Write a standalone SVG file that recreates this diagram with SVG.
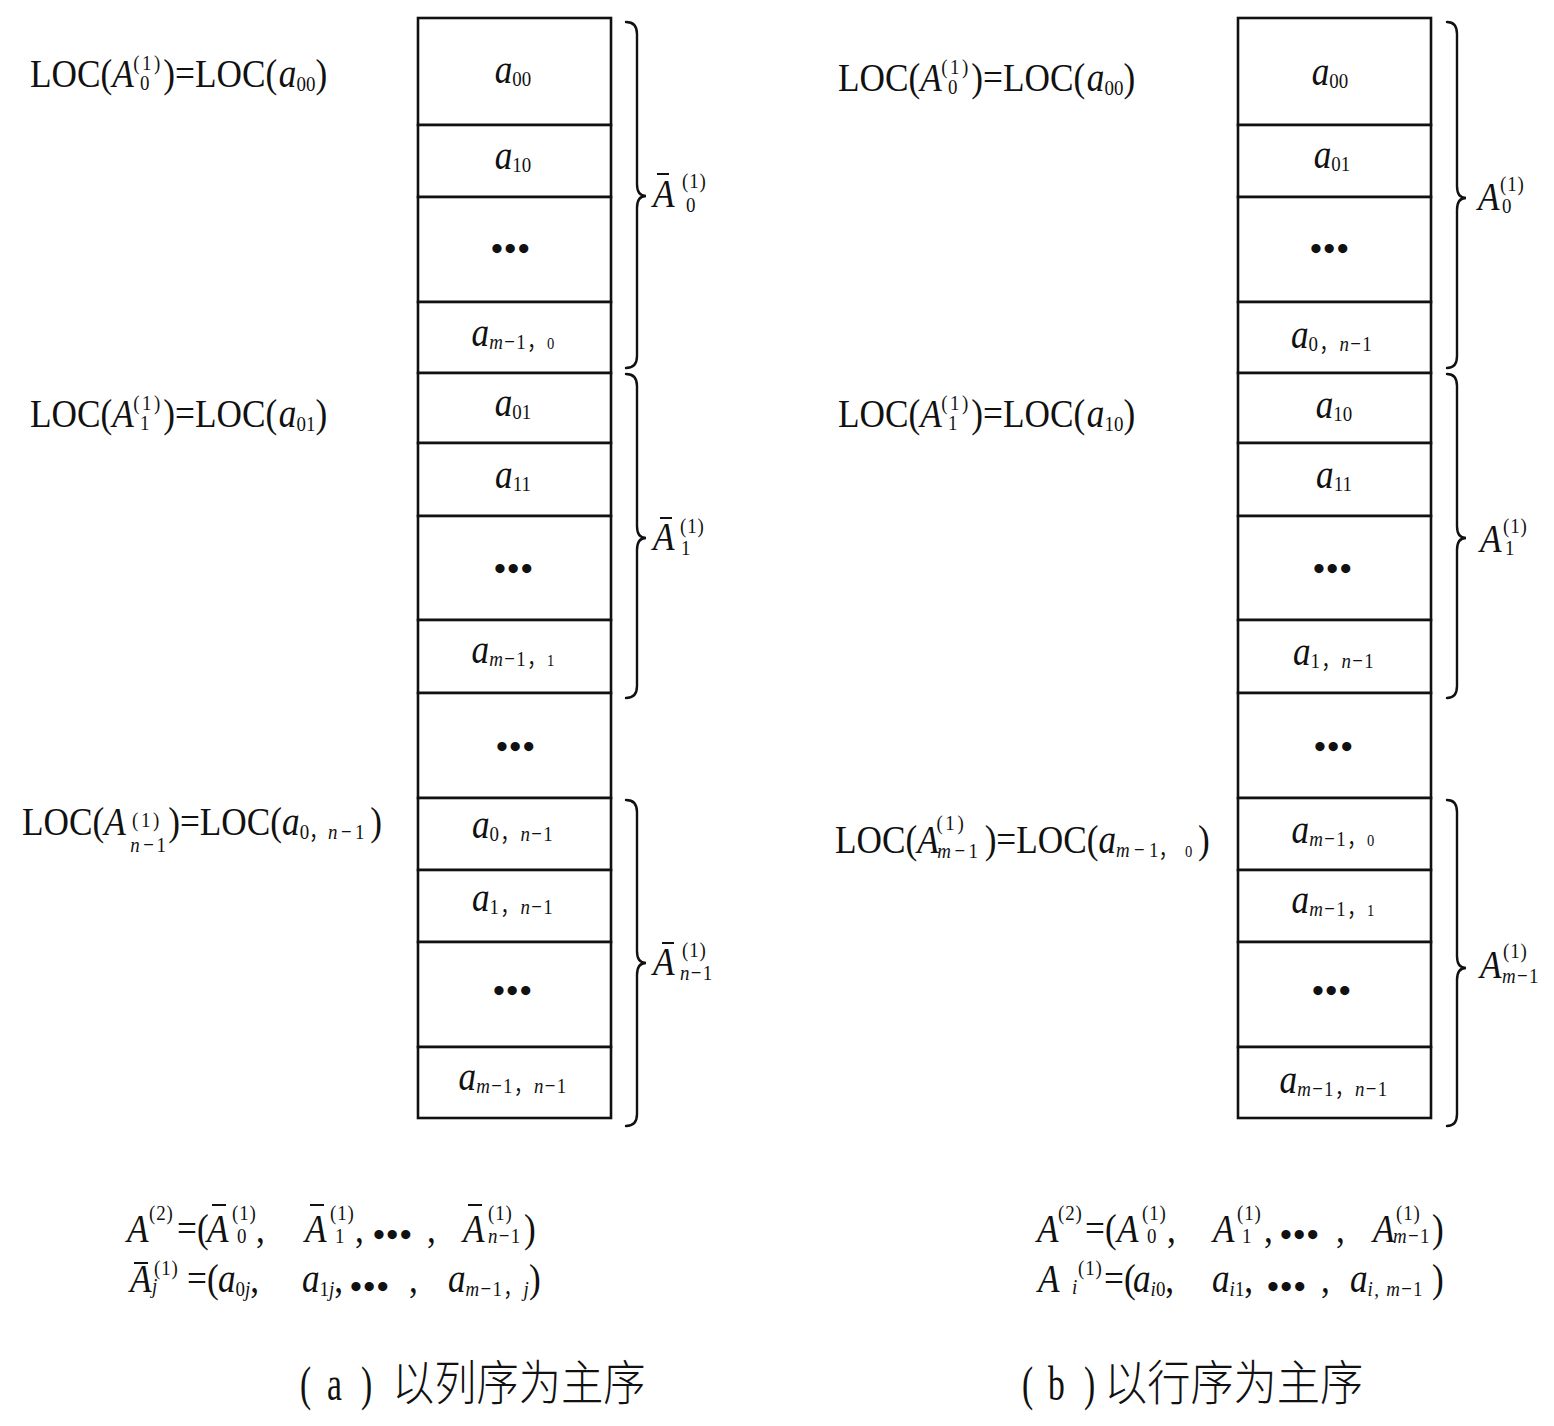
<svg xmlns="http://www.w3.org/2000/svg" width="1554" height="1426" viewBox="0 0 1554 1426">
<style>
.t{font-family:"Liberation Serif","Noto Sans CJK SC",serif;font-size:41px;fill:#111}
.i{font-style:italic}
.s{font-size:22px}
.sm{font-size:22px;letter-spacing:1.5px}
.sp{font-size:22px;letter-spacing:1px}
.spw{font-size:22px;letter-spacing:3px}
.x{font-size:17px}
.cell{fill:#fff;stroke:#111;stroke-width:2.6}
.brace{fill:none;stroke:#111;stroke-width:2.4;stroke-linecap:round}
.bar{stroke:#111;stroke-width:2}
.dots{font-family:"Liberation Serif",serif;font-size:34px;font-weight:bold;fill:#111;text-anchor:middle;letter-spacing:1.5px}
.m{text-anchor:middle}
.cap{font-family:"Noto Sans CJK SC",sans-serif;font-size:48px;font-weight:300;fill:#111}
.capl{font-family:"Liberation Serif",serif;font-size:48px;fill:#111}
</style>
<rect width="1554" height="1426" fill="#fff"/>

<!-- Left column (a) -->
<g id="left-column">
<g id="L1"><rect class="cell" x="418" y="18" width="193" height="107"/><text class="t m" transform="translate(513,83) scale(0.86,1)"><tspan class="i">a</tspan><tspan class="s" dy="3">00</tspan></text></g>
<g id="L2"><rect class="cell" x="418" y="125" width="193" height="72"/><text class="t m" transform="translate(513,169) scale(0.86,1)"><tspan class="i">a</tspan><tspan class="s" dy="3">10</tspan></text></g>
<g id="L3"><rect class="cell" x="418" y="197" width="193" height="105"/><text class="dots" x="511" y="260">•••</text></g>
<g id="L4"><rect class="cell" x="418" y="302" width="193" height="71"/><text class="t m" transform="translate(513,346) scale(0.86,1)"><tspan class="i">a</tspan><tspan class="sm" dy="3"><tspan class="i">m</tspan>−1，</tspan><tspan class="x">0</tspan></text></g>
<g id="L5"><rect class="cell" x="418" y="373" width="193" height="70"/><text class="t m" transform="translate(513,416) scale(0.86,1)"><tspan class="i">a</tspan><tspan class="s" dy="3">01</tspan></text></g>
<g id="L6"><rect class="cell" x="418" y="443" width="193" height="73"/><text class="t m" transform="translate(513,488) scale(0.86,1)"><tspan class="i">a</tspan><tspan class="s" dy="3">11</tspan></text></g>
<g id="L7"><rect class="cell" x="418" y="516" width="193" height="104"/><text class="dots" x="514" y="580">•••</text></g>
<g id="L8"><rect class="cell" x="418" y="620" width="193" height="73"/><text class="t m" transform="translate(513,663) scale(0.86,1)"><tspan class="i">a</tspan><tspan class="sm" dy="3"><tspan class="i">m</tspan>−1，</tspan><tspan class="x">1</tspan></text></g>
<g id="L9"><rect class="cell" x="418" y="693" width="193" height="105"/><text class="dots" x="516" y="758">•••</text></g>
<g id="L10"><rect class="cell" x="418" y="798" width="193" height="72"/><text class="t m" transform="translate(513,838) scale(0.86,1)"><tspan class="i">a</tspan><tspan class="sm" dy="3">0，<tspan class="i">n</tspan>−1</tspan></text></g>
<g id="L11"><rect class="cell" x="418" y="870" width="193" height="72"/><text class="t m" transform="translate(513,911) scale(0.86,1)"><tspan class="i">a</tspan><tspan class="sm" dy="3">1，<tspan class="i">n</tspan>−1</tspan></text></g>
<g id="L12"><rect class="cell" x="418" y="942" width="193" height="105"/><text class="dots" x="513" y="1002">•••</text></g>
<g id="L13"><rect class="cell" x="418" y="1047" width="193" height="71"/><text class="t m" transform="translate(513,1090) scale(0.86,1)"><tspan class="i">a</tspan><tspan class="sm" dy="3"><tspan class="i">m</tspan>−1，<tspan class="i">n</tspan>−1</tspan></text></g>
</g>

<!-- Right column (b) -->
<g id="right-column">
<g id="R1"><rect class="cell" x="1238" y="18" width="193" height="107"/><text class="t m" transform="translate(1330,85) scale(0.86,1)"><tspan class="i">a</tspan><tspan class="s" dy="3">00</tspan></text></g>
<g id="R2"><rect class="cell" x="1238" y="125" width="193" height="72"/><text class="t m" transform="translate(1332,168) scale(0.86,1)"><tspan class="i">a</tspan><tspan class="s" dy="3">01</tspan></text></g>
<g id="R3"><rect class="cell" x="1238" y="197" width="193" height="105"/><text class="dots" x="1330" y="260">•••</text></g>
<g id="R4"><rect class="cell" x="1238" y="302" width="193" height="71"/><text class="t m" transform="translate(1332,348) scale(0.86,1)"><tspan class="i">a</tspan><tspan class="sm" dy="3">0，<tspan class="i">n</tspan>−1</tspan></text></g>
<g id="R5"><rect class="cell" x="1238" y="373" width="193" height="70"/><text class="t m" transform="translate(1334,418) scale(0.86,1)"><tspan class="i">a</tspan><tspan class="s" dy="3">10</tspan></text></g>
<g id="R6"><rect class="cell" x="1238" y="443" width="193" height="73"/><text class="t m" transform="translate(1334,488) scale(0.86,1)"><tspan class="i">a</tspan><tspan class="s" dy="3">11</tspan></text></g>
<g id="R7"><rect class="cell" x="1238" y="516" width="193" height="104"/><text class="dots" x="1333" y="580">•••</text></g>
<g id="R8"><rect class="cell" x="1238" y="620" width="193" height="73"/><text class="t m" transform="translate(1334,665) scale(0.86,1)"><tspan class="i">a</tspan><tspan class="sm" dy="3">1，<tspan class="i">n</tspan>−1</tspan></text></g>
<g id="R9"><rect class="cell" x="1238" y="693" width="193" height="105"/><text class="dots" x="1334" y="758">•••</text></g>
<g id="R10"><rect class="cell" x="1238" y="798" width="193" height="72"/><text class="t m" transform="translate(1333,843) scale(0.86,1)"><tspan class="i">a</tspan><tspan class="sm" dy="3"><tspan class="i">m</tspan>−1，</tspan><tspan class="x">0</tspan></text></g>
<g id="R11"><rect class="cell" x="1238" y="870" width="193" height="72"/><text class="t m" transform="translate(1333,913) scale(0.86,1)"><tspan class="i">a</tspan><tspan class="sm" dy="3"><tspan class="i">m</tspan>−1，</tspan><tspan class="x">1</tspan></text></g>
<g id="R12"><rect class="cell" x="1238" y="942" width="193" height="105"/><text class="dots" x="1332" y="1002">•••</text></g>
<g id="R13"><rect class="cell" x="1238" y="1047" width="193" height="71"/><text class="t m" transform="translate(1334,1093) scale(0.86,1)"><tspan class="i">a</tspan><tspan class="sm" dy="3"><tspan class="i">m</tspan>−1，<tspan class="i">n</tspan>−1</tspan></text></g>
</g>

<!-- Braces -->
<g id="connectors">
<path class="brace" d="M626,22 Q637,22 637,34 L637,184 Q637,196 646,196 Q637,196 637,208 L637,356 Q637,368 626,368"/>
<path class="brace" d="M626,374 Q637,374 637,386 L637,526 Q637,538 646,538 Q637,538 637,550 L637,686 Q637,698 626,698"/>
<path class="brace" d="M626,800 Q637,800 637,812 L637,951 Q637,963 646,963 Q637,963 637,975 L637,1114 Q637,1126 626,1126"/>
<path class="brace" d="M1447,22 Q1457,22 1457,34 L1457,186 Q1457,198 1466,198 Q1457,198 1457,210 L1457,356 Q1457,368 1447,368"/>
<path class="brace" d="M1447,374 Q1457,374 1457,386 L1457,526 Q1457,538 1466,538 Q1457,538 1457,550 L1457,686 Q1457,698 1447,698"/>
<path class="brace" d="M1447,800 Q1457,800 1457,812 L1457,956 Q1457,968 1466,968 Q1457,968 1457,980 L1457,1114 Q1457,1126 1447,1126"/>
</g>

<!-- Brace labels -->
<g id="brace-labels-left">
<text class="t i" transform="translate(653,207) scale(0.86,1)">A</text><line class="bar" x1="657" y1="174" x2="669" y2="174"/>
<text class="t sp" transform="translate(682,188) scale(0.86,1)">(1)</text><text class="t s" transform="translate(686,212) scale(0.86,1)">0</text>
<text class="t i" transform="translate(653,550) scale(0.86,1)">A</text><line class="bar" x1="660" y1="518" x2="672" y2="518"/>
<text class="t sp" transform="translate(680,533) scale(0.86,1)">(1)</text><text class="t s" transform="translate(681,555) scale(0.86,1)">1</text>
<text class="t i" transform="translate(653,975) scale(0.86,1)">A</text><line class="bar" x1="662" y1="943" x2="674" y2="943"/>
<text class="t sp" transform="translate(682,957) scale(0.86,1)">(1)</text><text class="t sm" transform="translate(680,980) scale(0.86,1)"><tspan class="i">n</tspan>−1</text>
</g>
<g id="brace-labels-right">
<text class="t i" transform="translate(1478,210) scale(0.86,1)">A</text>
<text class="t sp" transform="translate(1500,191) scale(0.86,1)">(1)</text><text class="t s" transform="translate(1502,213) scale(0.86,1)">0</text>
<text class="t i" transform="translate(1480,552) scale(0.86,1)">A</text>
<text class="t sp" transform="translate(1503,533) scale(0.86,1)">(1)</text><text class="t s" transform="translate(1505,555) scale(0.86,1)">1</text>
<text class="t i" transform="translate(1480,978) scale(0.86,1)">A</text>
<text class="t sp" transform="translate(1503,958) scale(0.86,1)">(1)</text><text class="t sm" transform="translate(1502,983) scale(0.86,1)"><tspan class="i">m</tspan>−1</text>
</g>

<!-- LOC labels -->
<g id="loc-left">
<text class="t" transform="translate(30,87) scale(0.86,1)">LOC(<tspan class="i">A</tspan><tspan class="spw" x="120" y="-17">(1)</tspan><tspan class="s" x="128" y="3">0</tspan><tspan x="155" y="0">)=LOC(</tspan><tspan class="i" dx="2">a</tspan><tspan class="s" y="4">00</tspan><tspan y="0">)</tspan></text>
<text class="t" transform="translate(30,427) scale(0.86,1)">LOC(<tspan class="i">A</tspan><tspan class="spw" x="120" y="-17">(1)</tspan><tspan class="s" x="128" y="3">1</tspan><tspan x="155" y="0">)=LOC(</tspan><tspan class="i" dx="2">a</tspan><tspan class="s" y="4">01</tspan><tspan y="0">)</tspan></text>
<text class="t" transform="translate(22,835) scale(0.86,1)">LOC(<tspan class="i">A</tspan><tspan class="spw" x="128" y="-8">(1)</tspan><tspan class="s i" x="126" y="17">n</tspan><tspan class="s" dx="4">−</tspan><tspan class="s" dx="3">1</tspan><tspan x="170" y="0">)=LOC(</tspan><tspan class="i">a</tspan><tspan class="s" y="4">0，</tspan><tspan class="s i">n</tspan><tspan class="s" dx="4">−</tspan><tspan class="s" dx="4">1</tspan><tspan x="405" y="0">)</tspan></text>
</g>
<g id="loc-right">
<text class="t" transform="translate(838,91) scale(0.86,1)">LOC(<tspan class="i">A</tspan><tspan class="spw" x="120" y="-17">(1)</tspan><tspan class="s" x="128" y="3">0</tspan><tspan x="155" y="0">)=LOC(</tspan><tspan class="i" dx="2">a</tspan><tspan class="s" y="4">00</tspan><tspan y="0">)</tspan></text>
<text class="t" transform="translate(838,427) scale(0.86,1)">LOC(<tspan class="i">A</tspan><tspan class="spw" x="120" y="-17">(1)</tspan><tspan class="s" x="128" y="3">1</tspan><tspan x="155" y="0">)=LOC(</tspan><tspan class="i" dx="2">a</tspan><tspan class="s" y="4">10</tspan><tspan y="0">)</tspan></text>
<text class="t" transform="translate(835,853) scale(0.86,1)">LOC(<tspan class="i">A</tspan><tspan class="spw" x="118" y="-23">(1)</tspan><tspan class="s i" x="119" y="5">m</tspan><tspan class="s" dx="4">−</tspan><tspan class="s" dx="4">1</tspan><tspan x="174" y="0">)=LOC(</tspan><tspan class="i">a</tspan><tspan class="s i" y="4">m</tspan><tspan class="s" dx="5">−</tspan><tspan class="s" dx="5">1，</tspan><tspan class="x" x="407">0</tspan><tspan x="422" y="0">)</tspan></text>
</g>

<!-- Formulas left -->
<g id="formula-left">
<text class="t i" transform="translate(127,1242) scale(0.86,1)">A</text>
<text class="t sp" transform="translate(149,1220) scale(0.86,1)">(2)</text>
<text class="t" transform="translate(177,1242) scale(0.86,1)">=(</text>
<text class="t i" transform="translate(207,1242) scale(0.86,1)">A</text><line class="bar" x1="212" y1="1205" x2="226" y2="1205"/>
<text class="t sp" transform="translate(232,1220) scale(0.86,1)">(1)</text><text class="t s" transform="translate(237,1243) scale(0.86,1)">0</text>
<text class="t" transform="translate(256,1242) scale(0.86,1)">,</text>
<text class="t i" transform="translate(305,1242) scale(0.86,1)">A</text><line class="bar" x1="310" y1="1205" x2="324" y2="1205"/>
<text class="t sp" transform="translate(330,1220) scale(0.86,1)">(1)</text><text class="t s" transform="translate(335,1243) scale(0.86,1)">1</text>
<text class="t" transform="translate(355,1242) scale(0.86,1)">,</text>
<text class="dots" x="393" y="1246">•••</text>
<text class="t" transform="translate(427,1242) scale(0.86,1)">,</text>
<text class="t i" transform="translate(463,1242) scale(0.86,1)">A</text><line class="bar" x1="468" y1="1205" x2="482" y2="1205"/>
<text class="t sp" transform="translate(488,1220) scale(0.86,1)">(1)</text><text class="t sm" transform="translate(488,1243) scale(0.86,1)"><tspan class="i">n</tspan>−1</text>
<text class="t" transform="translate(524,1242) scale(0.86,1)">)</text>

<text class="t i" transform="translate(130,1292) scale(0.86,1)">A</text><line class="bar" x1="134" y1="1263" x2="148" y2="1263"/>
<text class="t sp" transform="translate(154,1275) scale(0.86,1)">(1)</text><text class="t s i" transform="translate(152,1293) scale(0.86,1)">j</text>
<text class="t" transform="translate(187,1292) scale(0.86,1)">=(</text>
<text class="t" transform="translate(218,1292) scale(0.86,1)"><tspan class="i">a</tspan><tspan class="s" dy="4">0<tspan class="i">j</tspan></tspan><tspan dy="-4">,</tspan></text>
<text class="t" transform="translate(302,1292) scale(0.86,1)"><tspan class="i">a</tspan><tspan class="s" dy="4">1<tspan class="i">j</tspan></tspan><tspan dy="-4">,</tspan></text>
<text class="dots" x="370" y="1298">•••</text>
<text class="t" transform="translate(409,1292) scale(0.86,1)">,</text>
<text class="t" transform="translate(448,1292) scale(0.86,1)"><tspan class="i">a</tspan><tspan class="sm" dy="4"><tspan class="i">m</tspan>−1，<tspan class="i">j</tspan></tspan></text>
<text class="t" transform="translate(529,1292) scale(0.86,1)">)</text>
</g>

<!-- Formulas right -->
<g id="formula-right">
<text class="t i" transform="translate(1037,1242) scale(0.86,1)">A</text>
<text class="t sp" transform="translate(1058,1220) scale(0.86,1)">(2)</text>
<text class="t" transform="translate(1085,1242) scale(0.86,1)">=(</text>
<text class="t i" transform="translate(1117,1242) scale(0.86,1)">A</text>
<text class="t sp" transform="translate(1142,1220) scale(0.86,1)">(1)</text><text class="t s" transform="translate(1147,1243) scale(0.86,1)">0</text>
<text class="t" transform="translate(1167,1242) scale(0.86,1)">,</text>
<text class="t i" transform="translate(1213,1242) scale(0.86,1)">A</text>
<text class="t sp" transform="translate(1237,1220) scale(0.86,1)">(1)</text><text class="t s" transform="translate(1242,1243) scale(0.86,1)">1</text>
<text class="t" transform="translate(1264,1242) scale(0.86,1)">,</text>
<text class="dots" x="1300" y="1246">•••</text>
<text class="t" transform="translate(1336,1242) scale(0.86,1)">,</text>
<text class="t i" transform="translate(1373,1242) scale(0.86,1)">A</text>
<text class="t sp" transform="translate(1396,1220) scale(0.86,1)">(1)</text><text class="t sm" transform="translate(1393,1243) scale(0.86,1)"><tspan class="i">m</tspan>−1</text>
<text class="t" transform="translate(1432,1242) scale(0.86,1)">)</text>

<text class="t i" transform="translate(1038,1292) scale(0.86,1)">A</text>
<text class="t sp" transform="translate(1078,1275) scale(0.86,1)">(1)</text><text class="t s i" transform="translate(1072,1294) scale(0.86,1)">i</text>
<text class="t" transform="translate(1104,1292) scale(0.86,1)">=(</text>
<text class="t" transform="translate(1133,1292) scale(0.86,1)"><tspan class="i">a</tspan><tspan class="s" dy="4"><tspan class="i">i</tspan>0</tspan><tspan dy="-4">,</tspan></text>
<text class="t" transform="translate(1212,1292) scale(0.86,1)"><tspan class="i">a</tspan><tspan class="s" dy="4"><tspan class="i">i</tspan>1</tspan><tspan dy="-4">,</tspan></text>
<text class="dots" x="1287" y="1298">•••</text>
<text class="t" transform="translate(1321,1292) scale(0.86,1)">,</text>
<text class="t" transform="translate(1350,1292) scale(0.86,1)"><tspan class="i">a</tspan><tspan class="sm" dy="4"><tspan class="i">i</tspan>,<tspan class="i" dx="7">m</tspan>−1</tspan></text>
<text class="t" transform="translate(1432,1292) scale(0.86,1)">)</text>
</g>

<!-- Captions -->
<g id="caption-a">
<text class="capl" transform="translate(300,1400) scale(0.7,1)">(</text>
<text class="capl" transform="translate(327,1400) scale(0.7,1)">a</text>
<text class="capl" transform="translate(361,1400) scale(0.7,1)">)</text>
<text class="cap" transform="translate(392,1400) scale(0.88,1)">以列序为主序</text>
</g>
<g id="caption-b">
<text class="capl" transform="translate(1022,1400) scale(0.7,1)">(</text>
<text class="capl" transform="translate(1048,1400) scale(0.7,1)">b</text>
<text class="capl" transform="translate(1084,1400) scale(0.7,1)">)</text>
<text class="cap" transform="translate(1104,1400) scale(0.9,1)">以行序为主序</text>
</g>
</svg>
